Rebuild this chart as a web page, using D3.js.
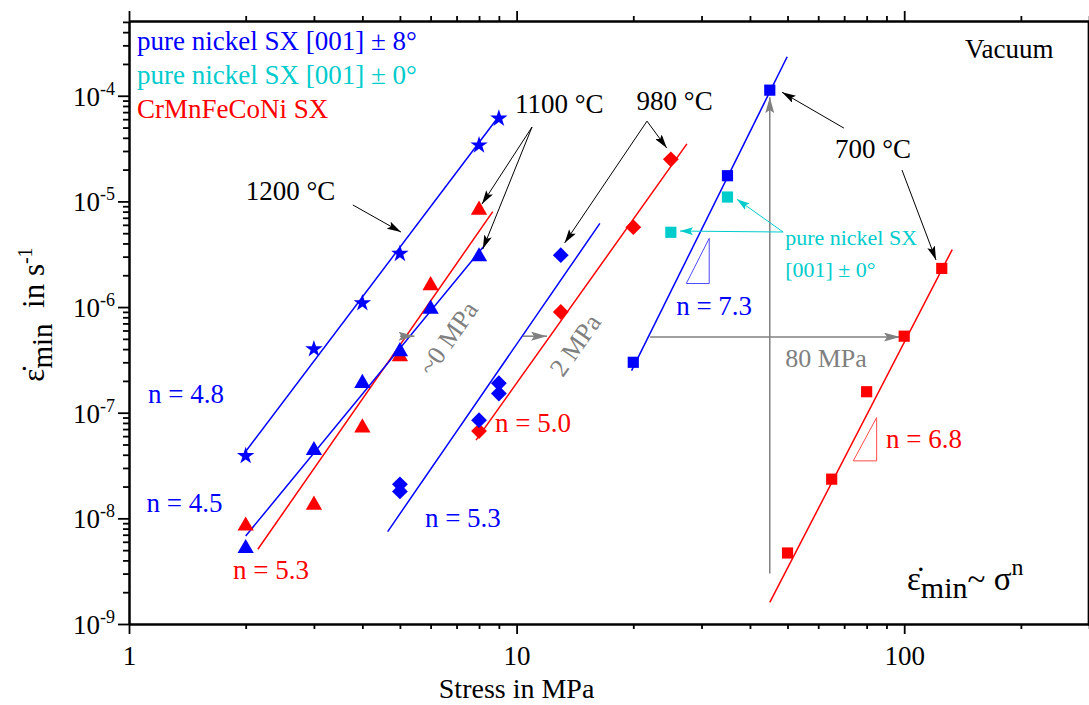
<!DOCTYPE html>
<html>
<head>
<meta charset="utf-8">
<script src="https://cdn.jsdelivr.net/npm/d3@7"></script>
<style>
  body { margin: 0; background: #fff; }
  svg text { font-family: "Liberation Serif", "Times New Roman", serif; }
</style>
</head>
<body>
<div id="chart"></div>
<script>
// ---- data (stress in MPa, min. creep rate in 1/s) ----
const blueStarStress = [2, 3, 4, 5, 8, 9];               // pure Ni ±8°, 1200 °C
const blueStarRate   = [3.9e-8, 4.0e-7, 1.09e-6, 3.2e-6, 3.4e-5, 6.1e-5];
const blueTriStress  = [2, 3, 4, 5, 6, 8];               // pure Ni ±8°, 1100 °C
const blueTriRate    = [5.2e-9, 4.4e-8, 1.9e-7, 3.8e-7, 9.6e-7, 3.0e-6];
const redTriStress   = [2, 3, 4, 5, 6, 8];               // CrMnFeCoNi, 1100 °C
const redTriRate     = [8.5e-9, 1.34e-8, 7.2e-8, 3.4e-7, 1.6e-6, 8.3e-6];
const blueDiaStress  = [5, 5, 8, 9, 9, 13];              // pure Ni ±8°, 980 °C
const blueDiaRate    = [2.1e-8, 1.8e-8, 8.5e-8, 1.9e-7, 1.52e-7, 3.1e-6];
const redDiaStress   = [8, 13, 20, 25];                  // CrMnFeCoNi, 980 °C
const redDiaRate     = [6.7e-8, 9.0e-7, 5.7e-6, 2.5e-5];
const blueSqStress   = [20, 35, 45];                     // pure Ni ±8°, 700 °C
const blueSqRate     = [3.0e-7, 1.75e-5, 1.13e-4];
const cyanSqStress   = [25, 35];                         // pure Ni ±0°, 700 °C
const cyanSqRate     = [5.1e-6, 1.1e-5];
const redSqStress    = [50, 65, 80, 100, 125];           // CrMnFeCoNi, 700 °C
const redSqRate      = [4.7e-9, 2.35e-8, 1.58e-7, 5.3e-7, 2.32e-6];

// fitted power-law lines: [start, end] as [stress, rate]
const fitBlueStar = [[2, 4.3e-8], [9.06, 6.6e-5]];
const fitBlueTri  = [[2, 6.8e-9], [8.2, 3.7e-6]];
const fitRedTri   = [[2.15, 5.1e-9], [8.68, 8.0e-6]];
const fitBlueDia  = [[4.65, 7.5e-9], [16.4, 6.2e-6]];
const fitRedDia   = [[7.86, 5.5e-8], [27.5, 3.5e-5]];
const fitBlueSq   = [[19.8, 2.5e-7], [49.9, 2.34e-4]];
const fitRedSq    = [[45, 1.6e-9], [133, 3.5e-6]];

// stress exponent labels
const nLabels = ["n = 4.8", "n = 4.5", "n = 5.3", "n = 5.3", "n = 5.0", "n = 7.3", "n = 6.8"];

const xMajor = [1, 10, 100];
const yExponents = [-9, -8, -7, -6, -5, -4];

// ---- layout ----
const W = 1089, H = 705;
const plotLeft = 129, plotTop = 21, plotBottom = 624;
const decadeX = 387.6;

const blue = "#0000ff", red = "#ff0000", cyan = "#00cccc", grey = "#808080";

const x = d3.scaleLog().domain([1, 300]).range([plotLeft, plotLeft + decadeX * Math.log10(300)]);
const y = d3.scaleLog().domain([1e-9, 5.1e-4]).range([plotBottom, plotTop]);
const plotRight = x.range()[1];

const svg = d3.select("#chart").append("svg")
    .attr("width", W)
    .attr("height", H);

// arrow heads
const defs = svg.append("defs");
function addMarker(id, color, len, wid) {
    defs.append("marker")
        .attr("id", id)
        .attr("viewBox", `0 0 ${len} ${wid}`)
        .attr("refX", len).attr("refY", wid / 2)
        .attr("markerWidth", len).attr("markerHeight", wid)
        .attr("markerUnits", "userSpaceOnUse")
        .attr("orient", "auto")
        .append("path")
        .attr("d", `M0,0L${len},${wid / 2}L0,${wid}L${len * 0.2},${wid / 2}Z`)
        .attr("fill", color);
}
addMarker("arrBlack", "#000", 14, 8);
addMarker("arrGrey", grey, 16, 9);
addMarker("arrCyan", cyan, 13, 8);

// ---- axes ----
const minorX = [];
[1, 10, 100].forEach(d => { for (let k = 2; k <= 9; k++) if (d * k <= 300) minorX.push(d * k); });
const minorY = [];
yExponents.forEach(e => { for (let k = 2; k <= 9; k++) if (k * Math.pow(10, e) <= 5.1e-4) minorY.push(k * Math.pow(10, e)); });
const majorY = yExponents.map(e => Math.pow(10, e));

function styleAxis(g) {
    g.selectAll("path").attr("stroke", "#000").attr("stroke-width", 2);
    g.selectAll("line").attr("stroke", "#000").attr("stroke-width", 1.8);
}

// bottom
svg.append("g").attr("transform", `translate(0,${plotBottom})`)
    .call(d3.axisBottom(x).tickValues(xMajor).tickSize(10).tickSizeOuter(0).tickPadding(12)
        .tickFormat(d3.format("d")))
    .call(styleAxis)
    .call(g => g.selectAll("text").attr("font-size", 27).attr("fill", "#000")
        .style("font-family", "Liberation Serif"));
svg.append("g").attr("transform", `translate(0,${plotBottom})`)
    .call(d3.axisBottom(x).tickValues(minorX).tickSize(5).tickSizeOuter(0).tickFormat(""))
    .call(styleAxis);
// top
svg.append("g").attr("transform", `translate(0,${plotTop})`)
    .call(d3.axisTop(x).tickValues(xMajor).tickSize(10).tickSizeOuter(0).tickFormat(""))
    .call(styleAxis);
svg.append("g").attr("transform", `translate(0,${plotTop})`)
    .call(d3.axisTop(x).tickValues(minorX).tickSize(5).tickSizeOuter(0).tickFormat(""))
    .call(styleAxis);
// left
svg.append("g").attr("transform", `translate(${plotLeft},0)`)
    .call(d3.axisLeft(y).tickValues(majorY).tickSize(11).tickSizeOuter(0).tickFormat(""))
    .call(styleAxis);
svg.append("g").attr("transform", `translate(${plotLeft},0)`)
    .call(d3.axisLeft(y).tickValues(minorY).tickSize(6).tickSizeOuter(0).tickFormat(""))
    .call(styleAxis);
// right
svg.append("g").attr("transform", `translate(${plotRight - 1},0)`)
    .call(d3.axisRight(y).tickValues(majorY).tickSize(11).tickSizeOuter(0).tickFormat(""))
    .call(styleAxis);

// y tick labels 10^n
const yLab = svg.append("g");
yExponents.forEach(e => {
    const t = yLab.append("text")
        .attr("x", plotLeft - 14)
        .attr("y", y(Math.pow(10, e)) + 10)
        .attr("text-anchor", "end")
        .attr("font-size", 27);
    t.append("tspan").text("10");
    t.append("tspan").attr("dy", -11).attr("font-size", 18).text(e);
});

// axis titles
svg.append("text")
    .attr("x", x(10)).attr("y", 698)
    .attr("text-anchor", "middle").attr("font-size", 28)
    .text("Stress in MPa");

const yt = svg.append("text")
    .attr("transform", `translate(44,${(plotTop + plotBottom) / 2 - 8}) rotate(-90)`)
    .attr("text-anchor", "middle").attr("font-size", 31);
yt.append("tspan").text("\u03B5\u0307");
yt.append("tspan").attr("dy", 8).attr("font-size", 29).text("min");
yt.append("tspan").attr("dy", -8).text("\u00A0 in s");
yt.append("tspan").attr("dy", -12).attr("font-size", 20).text("-1");

// ---- fitted lines ----
const fits = [
    [fitRedTri, red], [fitRedDia, red], [fitRedSq, red],
    [fitBlueStar, blue], [fitBlueTri, blue], [fitBlueDia, blue], [fitBlueSq, blue]
];
const line = d3.line().x(d => x(d[0])).y(d => y(d[1]));
svg.append("g").selectAll("path").data(fits).join("path")
    .attr("d", d => line(d[0]))
    .attr("fill", "none")
    .attr("stroke", d => d[1])
    .attr("stroke-width", 1.5);

// slope triangles
const slopeTris = [
    [[[27.4, 1.67e-6], [31.4, 1.67e-6], [31.4, 4.47e-6]], "#4b4bff"],
    [[[73.9, 3.5e-8], [84.9, 3.5e-8], [84.9, 9.0e-8]], "#ff4b4b"]
];
svg.append("g").selectAll("path").data(slopeTris).join("path")
    .attr("d", d => line(d[0]) + "Z")
    .attr("fill", "none").attr("stroke", d => d[1]).attr("stroke-width", 1);

// ---- grey shift arrows ----
const greyArrows = [
    [[45, 3e-9], [45, 9.7e-5]],
    [[22.1, 5.2e-7], [97.5, 5.2e-7]],
    [[10.39, 5.3e-7], [11.98, 5.3e-7]],
    [[5.0, 5.3e-7], [5.45, 5.3e-7]]
];
svg.append("g").selectAll("path").data(greyArrows).join("path")
    .attr("d", d => line(d))
    .attr("stroke", grey).attr("stroke-width", 1.5).attr("fill", "none")
    .attr("marker-end", "url(#arrGrey)");

svg.append("text").attr("x", x(49.3)).attr("y", y(2.7e-7))
    .attr("font-size", 26).attr("fill", grey).text("80 MPa");
svg.append("text")
    .attr("transform", `translate(${x(6.65)},${y(5.1e-7)}) rotate(-55)`)
    .attr("text-anchor", "middle").attr("dy", "0.35em")
    .attr("font-size", 26).attr("fill", grey).text("~0 MPa");
svg.append("text")
    .attr("transform", `translate(${x(14.15)},${y(4.38e-7)}) rotate(-55)`)
    .attr("text-anchor", "middle").attr("dy", "0.35em")
    .attr("font-size", 26).attr("fill", grey).text("2 MPa");

// ---- markers ----
const sym = {
    star: d3.symbol().type(d3.symbolStar).size(95)(),
    tri: d3.symbol().type(d3.symbolTriangle).size(115)(),
    dia: d3.symbol().type(d3.symbolSquare).size(125)(),
    sq: d3.symbol().type(d3.symbolSquare).size(125)()
};
const series = [
    [redTriStress, redTriRate, "tri", red],
    [redDiaStress, redDiaRate, "dia", red],
    [redSqStress, redSqRate, "sq", red],
    [blueStarStress, blueStarRate, "star", blue],
    [blueTriStress, blueTriRate, "tri", blue],
    [blueDiaStress, blueDiaRate, "dia", blue],
    [blueSqStress, blueSqRate, "sq", blue],
    [cyanSqStress, cyanSqRate, "sq", cyan]
];
series.forEach(([xs, ys, shape, color]) => {
    svg.append("g").selectAll("path").data(xs.map((v, i) => [v, ys[i]])).join("path")
        .attr("d", sym[shape])
        .attr("transform", d => `translate(${x(d[0])},${y(d[1])})` + (shape === "dia" ? " rotate(45)" : ""))
        .attr("fill", color);
});

// ---- temperature annotations ----
const ann = svg.append("g").attr("font-size", 27);
function label(txt, sx, ry, color) {
    ann.append("text").attr("x", x(sx)).attr("y", y(ry)).attr("fill", color || "#000").text(txt);
}
function arrow(from, to, marker, color) {
    svg.append("path").attr("d", line([from, to]))
        .attr("stroke", color).attr("stroke-width", 1).attr("fill", "none")
        .attr("marker-end", `url(#${marker})`);
}
label("1200 \u00B0C", 2.0, 1.03e-5);
arrow([3.78, 9.25e-6], [5.03, 5.13e-6], "arrBlack", "#000");
label("1100 \u00B0C", 9.9, 6.85e-5);
arrow([10.96, 5.06e-5], [8.14, 9.44e-6], "arrBlack", "#000");
arrow([10.96, 5.06e-5], [8.18, 3.54e-6], "arrBlack", "#000");
label("980 \u00B0C", 20.4, 7.3e-5);
arrow([21.7, 5.75e-5], [24.4, 3.2e-5], "arrBlack", "#000");
arrow([21.7, 5.75e-5], [13.3, 4.04e-6], "arrBlack", "#000");
label("700 \u00B0C", 66.3, 2.57e-5);
arrow([69.9, 4.94e-5], [48.4, 1.08e-4], "arrBlack", "#000");
arrow([98.7, 1.98e-5], [120.8, 2.79e-6], "arrBlack", "#000");

// cyan note
ann.append("text").attr("x", x(49.3)).attr("y", y(3.87e-6)).attr("font-size", 22).attr("fill", cyan)
    .text("pure nickel SX");
ann.append("text").attr("x", x(49.3)).attr("y", y(1.92e-6)).attr("font-size", 22).attr("fill", cyan)
    .text("[001] \u00B1 0\u00B0");
arrow([48.7, 5.13e-6], [37.0, 1.05e-5], "arrCyan", cyan);
arrow([48.7, 5.13e-6], [26.4, 5.24e-6], "arrCyan", cyan);

// exponent labels
const nPos = [[1.12, 1.24e-7, blue], [1.11, 1.15e-8, blue], [1.855, 2.67e-9, red],
              [5.80, 8.28e-9, blue], [8.80, 6.56e-8, red], [25.8, 8.4e-7, blue], [89.8, 4.64e-8, red]];
nLabels.forEach((t, i) => label(t, nPos[i][0], nPos[i][1], nPos[i][2]));

// ---- legend & notes ----
const legend = [["pure nickel SX [001] \u00B1 8\u00B0", blue], ["pure nickel SX [001] \u00B1 0\u00B0", cyan], ["CrMnFeCoNi SX", red]];
svg.append("g").selectAll("text").data(legend).join("text")
    .attr("x", plotLeft + 8)
    .attr("y", (d, i) => plotTop + 29 + i * 34)
    .attr("font-size", 27)
    .attr("fill", d => d[1])
    .text(d => d[0]);

svg.append("text").attr("x", 965).attr("y", 58).attr("font-size", 27).text("Vacuum");

const law = svg.append("text").attr("x", 907).attr("y", 590).attr("font-size", 33);
law.append("tspan").text("\u03B5\u0307");
law.append("tspan").attr("dy", 8).attr("font-size", 30).text("min");
law.append("tspan").attr("dy", -8).text("~ \u03C3");
law.append("tspan").attr("dy", -15).attr("font-size", 24).text("n");
</script>
</body>
</html>
